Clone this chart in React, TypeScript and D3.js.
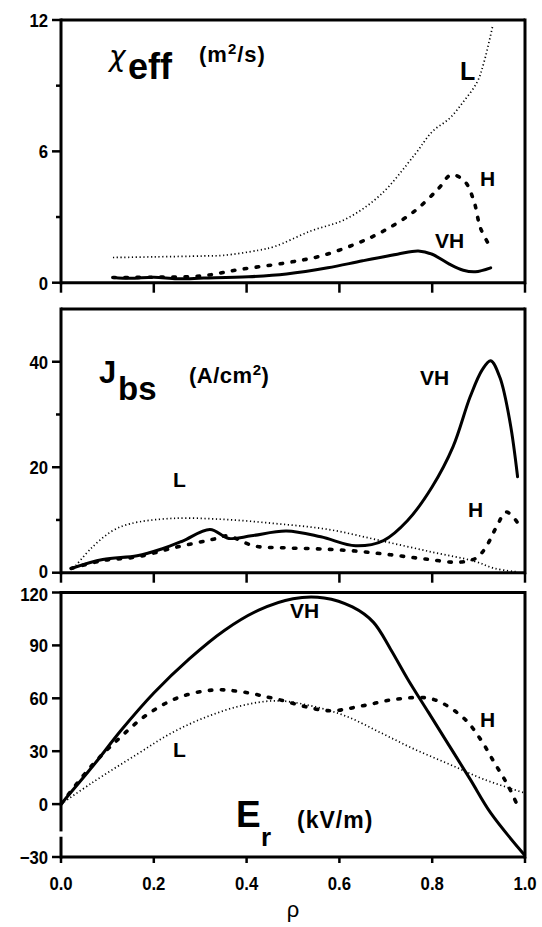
import React from "react";
import * as d3 from "d3";

// ---- data ----
const xTickValues = [0, 0.2, 0.4, 0.6, 0.8, 1.0];
const xTickLabels = ["0.0", "0.2", "0.4", "0.6", "0.8", "1.0"];

const chiMajor = [0, 6, 12];
const chiMinor = [3, 9];
const jbsMajor = [0, 20, 40];
const jbsMinor = [10, 30];
const erMajor = [-30, 0, 30, 60, 90, 120];

const chiRhoL = [0.112, 0.2, 0.307, 0.35, 0.425, 0.46, 0.538, 0.613, 0.688, 0.762, 0.8, 0.837, 0.867, 0.897, 0.912, 0.93];
const chiL = [1.15, 1.18, 1.22, 1.25, 1.48, 1.65, 2.36, 2.9, 4.0, 5.84, 6.9, 7.5, 8.26, 9.17, 10.1, 11.7];
const chiRhoH = [0.112, 0.2, 0.307, 0.381, 0.486, 0.56, 0.635, 0.695, 0.762, 0.814, 0.841, 0.87, 0.89, 0.904, 0.926];
const chiH = [0.24, 0.25, 0.32, 0.59, 0.91, 1.22, 1.77, 2.36, 3.27, 4.31, 4.93, 4.63, 3.72, 2.5, 1.6];
const chiRhoVH = [0.112, 0.15, 0.2, 0.25, 0.307, 0.404, 0.486, 0.575, 0.65, 0.725, 0.77, 0.8, 0.837, 0.867, 0.893, 0.926];
const chiVH = [0.24, 0.2, 0.25, 0.18, 0.21, 0.27, 0.4, 0.68, 1.0, 1.3, 1.45, 1.3, 0.85, 0.57, 0.5, 0.68];

const jbsRhoVH = [0.022, 0.09, 0.164, 0.217, 0.262, 0.321, 0.362, 0.41, 0.486, 0.56, 0.635, 0.695, 0.747, 0.8, 0.845, 0.882, 0.908, 0.926, 0.946, 0.968, 0.984];
const jbsVH = [0.8, 2.5, 3.2, 4.5, 6.0, 8.2, 6.5, 7.0, 7.9, 6.8, 5.1, 6.1, 9.9, 16.3, 23.9, 33.4, 38.5, 40.2, 37, 28.4, 18.2];
const jbsRhoL = [0.027, 0.067, 0.112, 0.15, 0.24, 0.352, 0.464, 0.576, 0.688, 0.8, 0.89, 0.935, 0.98];
const jbsL = [0.8, 4.8, 8.0, 9.3, 10.3, 10.1, 9.3, 8.2, 6.1, 3.9, 2.2, 0.8, 0.2];
const jbsRhoH = [0.022, 0.09, 0.164, 0.247, 0.336, 0.359, 0.415, 0.486, 0.56, 0.635, 0.71, 0.785, 0.86, 0.897, 0.92, 0.938, 0.96, 0.983];
const jbsH = [0.8, 2.3, 3.0, 4.8, 6.5, 7.0, 5.1, 4.7, 4.5, 4.1, 3.4, 2.6, 2.0, 2.9, 5.5, 8.6, 11.5, 9.6];

const erRhoVH = [0, 0.07, 0.13, 0.2, 0.277, 0.352, 0.426, 0.5, 0.567, 0.628, 0.673, 0.71, 0.747, 0.792, 0.837, 0.882, 0.926, 0.998];
const erVH = [0, 22, 42, 63, 82.5, 98.5, 110, 116.5, 116.9, 111.8, 103.2, 88, 71, 52, 33, 14, -5, -28.6];
const erRhoH = [0, 0.067, 0.127, 0.187, 0.254, 0.329, 0.389, 0.464, 0.576, 0.651, 0.725, 0.8, 0.867, 0.904, 0.934, 0.964, 0.986];
const erH = [0, 22, 37.7, 51, 60.5, 64.7, 63.7, 59.6, 53, 55.8, 59.6, 59.6, 49, 36.8, 23.5, 10.2, -2.1];
const erRhoL = [0, 0.067, 0.164, 0.24, 0.314, 0.389, 0.464, 0.538, 0.613, 0.688, 0.762, 0.837, 0.912, 0.998];
const erL = [0, 12.1, 28.3, 40.6, 49.5, 55.8, 58.6, 55.8, 50, 40.6, 31.1, 22.6, 14, 6.4];

const FONT = "'Liberation Sans', Arial, Helvetica, sans-serif";

const x = d3.scaleLinear().domain([0, 1]).range([61, 525]);

type Series = { rho: number[]; v: number[]; kind: "solid" | "dash" | "dot" };

const styleFor = (kind: string) => {
  if (kind === "solid") return { strokeWidth: 3, dash: undefined, cap: "round" };
  if (kind === "dash") return { strokeWidth: 3.6, dash: "2.5 9.5", cap: "round" };
  return { strokeWidth: 1.7, dash: "1.2 2.6", cap: "butt" };
};

// condensed bold tick label
const TickText = ({ px, py, anchor, txt }: any) => (
  <g transform={`translate(${px},${py}) scale(0.88,1)`}>
    <text textAnchor={anchor} fontFamily={FONT} fontWeight="bold" fontSize={19}>
      {txt}
    </text>
  </g>
);

function Panel({ y, series, major, minor, bottomTick, labels, leftBreak, shift }: any) {
  const [y0, y1] = y.range();
  const line = d3
    .line<[number, number]>()
    .x((d) => x(d[0]))
    .y((d) => y(d[1]))
    .curve(d3.curveCatmullRom.alpha(0.5));
  return (
    <g>
      {series.map((s: Series, i: number) => {
        const st = styleFor(s.kind);
        const pts = s.rho.map((r, j) => [r, s.v[j]] as [number, number]);
        return (
          <path
            key={i}
            d={line(pts) || ""}
            fill="none"
            stroke="#000"
            strokeWidth={st.strokeWidth}
            strokeDasharray={st.dash}
            strokeLinecap={st.cap as any}
            strokeLinejoin="round"
          />
        );
      })}
      {/* frame */}
      <line x1={x(0)} x2={x(1)} y1={y1} y2={y1} stroke="#000" strokeWidth={3} />
      <line x1={x(0)} x2={x(1)} y1={y0} y2={y0} stroke="#000" strokeWidth={3} />
      <line x1={x(1)} x2={x(1)} y1={y1 - 1.5} y2={y0 + 1.5} stroke="#000" strokeWidth={3} />
      {leftBreak ? (
        <g>
          <line x1={x(0)} x2={x(0)} y1={y1 - 1.5} y2={y(leftBreak[0])} stroke="#000" strokeWidth={3} />
          <line x1={x(0)} x2={x(0)} y1={y(leftBreak[1])} y2={y0 + 1.5} stroke="#000" strokeWidth={3} />
        </g>
      ) : (
        <line x1={x(0)} x2={x(0)} y1={y1 - 1.5} y2={y0 + 1.5} stroke="#000" strokeWidth={3} />
      )}
      {major.map((t: number) => (
        <g key={"M" + t}>
          <line x1={x(0) - 9} x2={x(0)} y1={y(t)} y2={y(t)} stroke="#000" strokeWidth={2.5} />
          <TickText
            px={x(0) - 13}
            py={y(t) + 6.8 + ((shift && shift[String(t)]) || 0)}
            anchor="end"
            txt={t < 0 ? "\u2212" + Math.abs(t) : String(t)}
          />
        </g>
      ))}
      {minor.map((t: number) => (
        <line key={"m" + t} x1={x(0) - 5} x2={x(0)} y1={y(t)} y2={y(t)} stroke="#000" strokeWidth={2.5} />
      ))}
      {xTickValues.map((t) => (
        <line key={"x" + t} x1={x(t)} x2={x(t)} y1={y0} y2={y0 + bottomTick} stroke="#000" strokeWidth={2.5} />
      ))}
      {labels}
    </g>
  );
}

const lab = (px: number, py: number, txt: string, size = 21) => (
  <text x={px} y={py} fontFamily={FONT} fontWeight="bold" fontSize={size}>
    {txt}
  </text>
);

export default function App() {
  const yChi = d3.scaleLinear().domain([0, 12]).range([282.7, 20]);
  const yJbs = d3.scaleLinear().domain([0, 50]).range([572.7, 309]);
  const yEr = d3.scaleLinear().domain([-30, 120]).range([857, 592.5]);

  return (
    <svg
      width={542}
      height={927}
      style={{ position: "absolute", left: 0, top: 0, background: "#fff" }}
    >
      <rect width={542} height={927} fill="#fff" />
      <Panel
        y={yChi}
        major={chiMajor}
        minor={chiMinor}
        bottomTick={10}
        series={[
          { rho: chiRhoL, v: chiL, kind: "dot" },
          { rho: chiRhoH, v: chiH, kind: "dash" },
          { rho: chiRhoVH, v: chiVH, kind: "solid" },
        ]}
        labels={
          <g>
            <text x={109} y={66} fontFamily="'DejaVu Sans', sans-serif" fontStyle="italic" fontSize={28}>
              χ
            </text>
            <text x={128} y={79} fontFamily={FONT} fontWeight="bold" fontSize={36}>
              eff
            </text>
            <text x={199} y={62} fontFamily={FONT} fontWeight="bold" fontSize={22} letterSpacing={1}>
              (m<tspan dy={-8} fontSize={15}>2</tspan>
              <tspan dy={8}>/s)</tspan>
            </text>
            {lab(460, 80, "L", 25)}
            {lab(480, 186, "H")}
            {lab(435, 248, "VH")}
          </g>
        }
      />
      <Panel
        y={yJbs}
        major={jbsMajor}
        minor={jbsMinor}
        bottomTick={10}
        shift={{ "0": -2 }}
        series={[
          { rho: jbsRhoL, v: jbsL, kind: "dot" },
          { rho: jbsRhoH, v: jbsH, kind: "dash" },
          { rho: jbsRhoVH, v: jbsVH, kind: "solid" },
        ]}
        labels={
          <g>
            <text x={99} y={383} fontFamily={FONT} fontWeight="bold" fontSize={31}>
              J
            </text>
            <text x={118} y={400} fontFamily={FONT} fontWeight="bold" fontSize={33}>
              bs
            </text>
            <text x={189} y={383} fontFamily={FONT} fontWeight="bold" fontSize={22} letterSpacing={0.5}>
              (A/cm<tspan dy={-8} fontSize={15}>2</tspan>
              <tspan dy={8}>)</tspan>
            </text>
            {lab(420, 385, "VH")}
            {lab(173, 487, "L")}
            {lab(468, 517, "H")}
          </g>
        }
      />
      <Panel
        y={yEr}
        major={erMajor}
        minor={[]}
        bottomTick={6}
        shift={{ "120": 1.5 }}
        leftBreak={[-15.5, -18.5]}
        series={[
          { rho: erRhoL, v: erL, kind: "dot" },
          { rho: erRhoH, v: erH, kind: "dash" },
          { rho: erRhoVH, v: erVH, kind: "solid" },
        ]}
        labels={
          <g>
            <text x={236} y={827} fontFamily={FONT} fontWeight="bold" fontSize={37}>
              E
            </text>
            <text x={261} y={846} fontFamily={FONT} fontWeight="bold" fontSize={26}>
              r
            </text>
            <text x={297} y={828} fontFamily={FONT} fontWeight="bold" fontSize={23} letterSpacing={1}>
              (kV/m)
            </text>
            {lab(290, 618, "VH")}
            {lab(480, 727, "H")}
            {lab(173, 757, "L")}
          </g>
        }
      />
      {xTickValues.map((t, i) => (
        <TickText key={t} px={x(t)} py={890} anchor="middle" txt={xTickLabels[i]} />
      ))}
      <text x={x(0.5)} y={917} textAnchor="middle" fontFamily={FONT} fontSize={22}>
        ρ
      </text>
    </svg>
  );
}
